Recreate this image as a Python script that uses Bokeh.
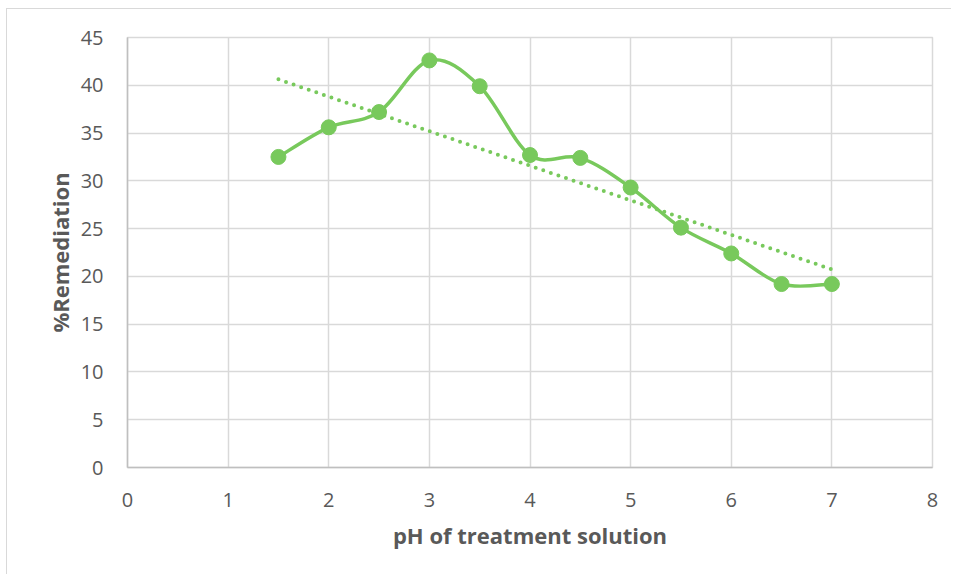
import numpy as np
from bokeh.plotting import figure
from bokeh.models import FixedTicker, Range1d
from bokeh.embed import file_html
from bokeh.resources import INLINE

ph = [1.5, 2.0, 2.5, 3.0, 3.5, 4.0, 4.5, 5.0, 5.5, 6.0, 6.5, 7.0]
remediation = [32.5, 35.6, 37.2, 42.6, 39.9, 32.7, 32.4, 29.3, 25.1, 22.4, 19.2, 19.2]
x_ticks = [0, 1, 2, 3, 4, 5, 6, 7, 8]
y_ticks = [0, 5, 10, 15, 20, 25, 30, 35, 40, 45]

GREEN = "#78c95c"
GRID = "#d9d9d9"
TXT = "#595959"
FONT = "Open Sans"

p = figure(width=945, height=566, output_backend="svg", toolbar_location=None,
           x_range=Range1d(0, 8), y_range=Range1d(0, 45),
           min_border_left=120, min_border_right=20, min_border_top=28, min_border_bottom=108)
p.styles = {"border-left": "1.5px solid #d9d9d9", "border-top": "1.5px solid #d9d9d9",
            "margin-left": "6px", "margin-top": "8px"}

p.xaxis.ticker = FixedTicker(ticks=x_ticks)
p.yaxis.ticker = FixedTicker(ticks=y_ticks)
for ax in (p.xaxis[0], p.yaxis[0]):
    ax.major_tick_line_color = None
    ax.minor_tick_line_color = None
    ax.axis_line_color = "#bfbfbf"
    ax.axis_line_width = 1.5
    ax.major_label_text_font = FONT
    ax.major_label_text_font_size = "20px"
    ax.major_label_text_color = TXT
    ax.axis_label_text_font = FONT
    ax.axis_label_text_font_size = "22px"
    ax.axis_label_text_font_style = "bold"
    ax.axis_label_text_color = TXT
p.xaxis.axis_label = "pH of treatment solution"
p.yaxis.axis_label = "%Remediation"
p.xaxis.major_label_standoff = 19
p.yaxis.major_label_standoff = 18
p.xaxis.axis_label_standoff = 10
p.yaxis.axis_label_standoff = 3

p.xgrid.grid_line_color = GRID
p.ygrid.grid_line_color = GRID
p.xgrid.grid_line_width = 1.5
p.ygrid.grid_line_width = 1.5
p.outline_line_color = GRID
p.outline_line_width = 1.5

# Linear trendline (least squares fit of the data)
xs = np.array(ph)
ys = np.array(remediation)
slope, intercept = np.polyfit(xs, ys, 1)
p.line([xs[0], xs[-1]], [slope * xs[0] + intercept, slope * xs[-1] + intercept],
       line_color=GREEN, line_width=4, line_dash="0 8", line_cap="round")

# Smoothed line (Catmull-Rom style Bezier like Excel)
n = len(xs)
x0, y0, x1, y1, cx0, cy0, cx1, cy1 = [], [], [], [], [], [], [], []
for i in range(n - 1):
    pm = (xs[max(i - 1, 0)], ys[max(i - 1, 0)])
    pa = (xs[i], ys[i])
    pb = (xs[i + 1], ys[i + 1])
    pn = (xs[min(i + 2, n - 1)], ys[min(i + 2, n - 1)])
    x0.append(pa[0]); y0.append(pa[1]); x1.append(pb[0]); y1.append(pb[1])
    cx0.append(pa[0] + (pb[0] - pm[0]) / 6); cy0.append(pa[1] + (pb[1] - pm[1]) / 6)
    cx1.append(pb[0] - (pn[0] - pa[0]) / 6); cy1.append(pb[1] - (pn[1] - pa[1]) / 6)
p.bezier(x0=x0, y0=y0, x1=x1, y1=y1, cx0=cx0, cy0=cy0, cx1=cx1, cy1=cy1,
         line_color=GREEN, line_width=3.5)

p.scatter(ph, remediation, size=15, fill_color=GREEN, line_color=GREEN)

open("out.html", "w").write(file_html(p, INLINE))
